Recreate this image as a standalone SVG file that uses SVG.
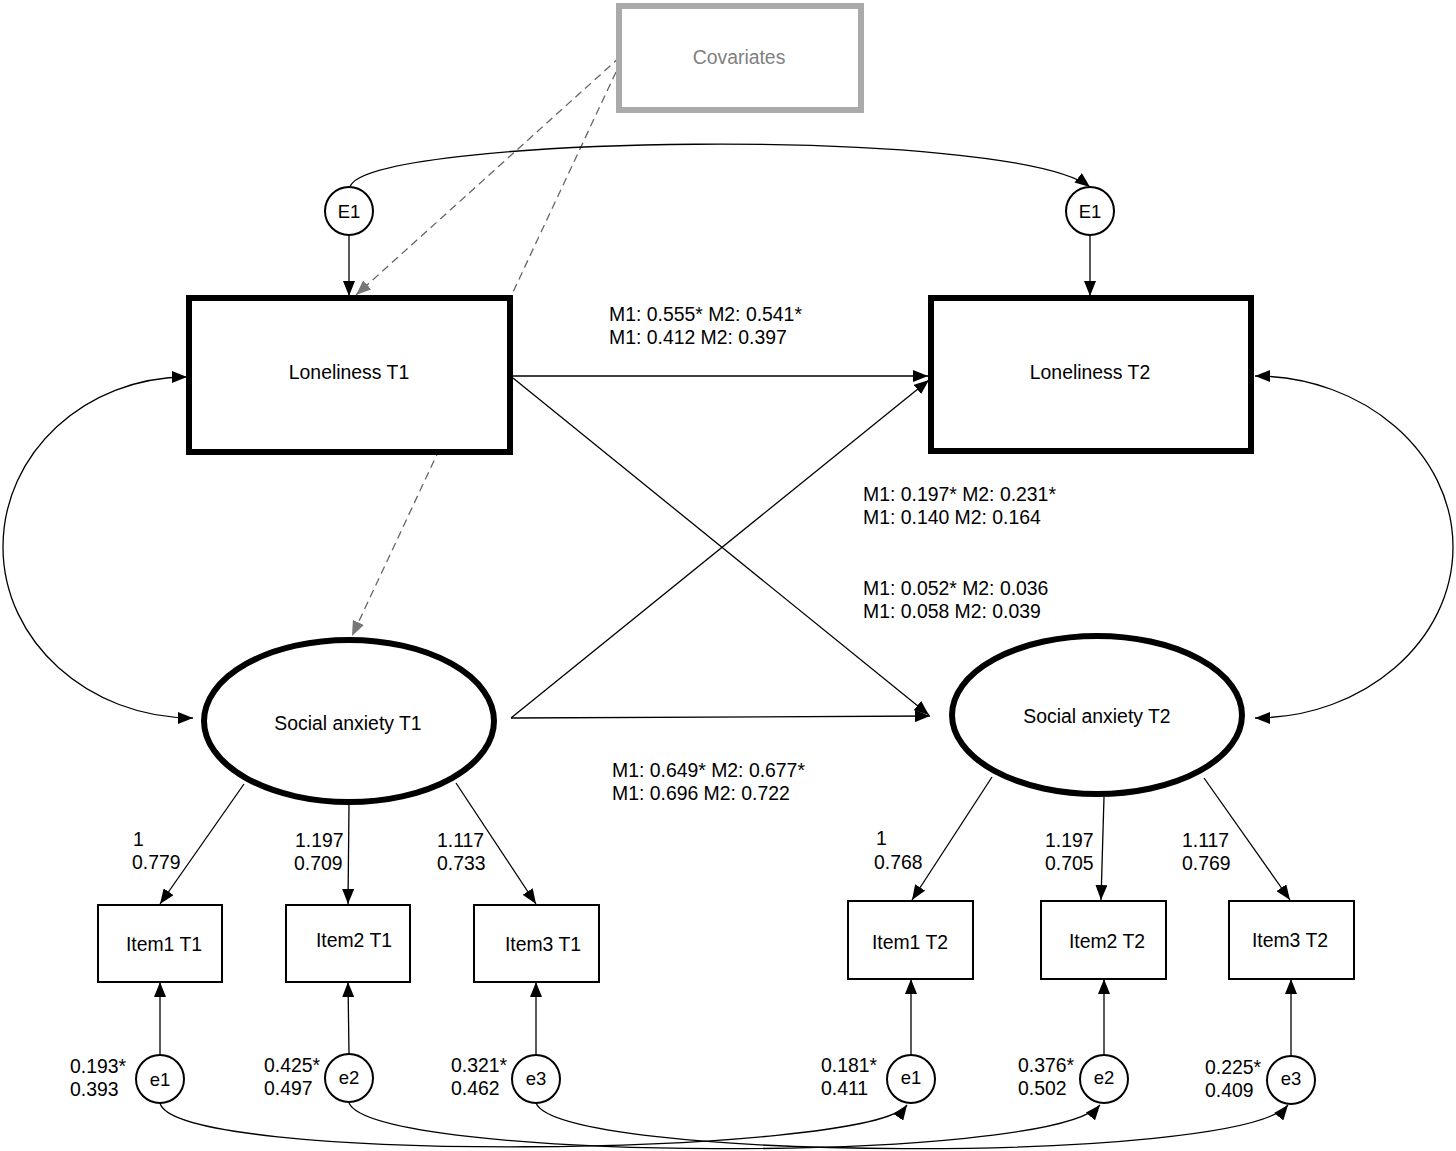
<svg xmlns="http://www.w3.org/2000/svg" width="1456" height="1151" viewBox="0 0 1456 1151">
<defs>
<marker id="ah" markerUnits="userSpaceOnUse" markerWidth="15" markerHeight="12" viewBox="0 0 15 12" refX="15" refY="6" orient="auto-start-reverse"><path d="M0,0 L15,6 L0,12 Z" fill="#000"/></marker>
<marker id="ahg" markerUnits="userSpaceOnUse" markerWidth="15" markerHeight="12" viewBox="0 0 15 12" refX="15" refY="6" orient="auto"><path d="M0,0 L15,6 L0,12 Z" fill="#777"/></marker>
</defs>
<style>
text{font-family:"Liberation Sans",Arial,sans-serif;font-size:19.4px;fill:#000}
.c{text-anchor:middle}
.ln{fill:none;stroke:#000;stroke-width:1.3;marker-end:url(#ah)}
.bi{fill:none;stroke:#000;stroke-width:1.3;marker-start:url(#ah);marker-end:url(#ah)}
.ds{fill:none;stroke:#666;stroke-width:1.3;stroke-dasharray:8 5}
.big{fill:#fff;stroke:#000;stroke-width:6}
.sm{fill:#fff;stroke:#000;stroke-width:2}
.ci{font-size:18.5px}
</style>
<rect width="1456" height="1151" fill="#fff"/>
<g id="connectors">
<path class="ds" d="M616,72 L352,636" marker-end="url(#ahg)"/>
<path class="ds" d="M620,57 L356,295" marker-end="url(#ahg)"/>
<path class="ln" d="M349,235 L349,296"/>
<path class="ln" d="M1090,235 L1090,296"/>
<path class="ln" d="M350,187 C365,135 1010,125 1090,187"/>
<path class="ln" d="M513,376 L928,376"/>
<path class="ln" d="M513,378 L929,715"/>
<path class="ln" d="M511,718 L929,380"/>
<path class="ln" d="M511,718 L930,716"/>
<path class="bi" d="M187,377 C85,377 3,453 3,547 C3,641 88,718 193,718"/>
<path class="bi" d="M1255,376 C1364,376 1453,453 1453,547 C1453,641 1364,718 1255,718"/>
<path class="ln" d="M244,784 L160,904"/>
<path class="ln" d="M349,805 L348,904"/>
<path class="ln" d="M456,783 L536,904"/>
<path class="ln" d="M992,777 L912,900"/>
<path class="ln" d="M1104,797 L1101,900"/>
<path class="ln" d="M1204,778 L1290,900"/>
<path class="ln" d="M160,1055 L160,982"/>
<path class="ln" d="M349,1054 L348,982"/>
<path class="ln" d="M536,1055 L536,982"/>
<path class="ln" d="M911,1055 L911,979"/>
<path class="ln" d="M1104,1055 L1104,979"/>
<path class="ln" d="M1291,1056 L1291,979"/>
<path class="ln" d="M160,1103 C175,1165 870,1157 907,1105"/>
<path class="ln" d="M349,1103 C375,1162 1050,1165 1100,1105"/>
<path class="ln" d="M536,1103 C560,1162 1240,1165 1288,1105"/>
</g>
<g id="covariates">
<rect x="619" y="6" width="242" height="104" fill="#fff" stroke="#aaa" stroke-width="6"/>
<text class="c" x="739" y="64" style="fill:#808080">Covariates</text>
</g>
<g id="E1-left">
<circle class="sm" cx="349" cy="211" r="24"/>
<text class="c ci" x="349" y="218">E1</text>
</g>
<g id="E1-right">
<circle class="sm" cx="1090" cy="211" r="24"/>
<text class="c ci" x="1090" y="218">E1</text>
</g>
<g id="loneliness-t1">
<rect class="big" x="189" y="298" width="321" height="154"/>
<text class="c" x="349" y="379">Loneliness T1</text>
</g>
<g id="loneliness-t2">
<rect class="big" x="931" y="298" width="320" height="153"/>
<text class="c" x="1090" y="379">Loneliness T2</text>
</g>
<g id="social-anxiety-t1">
<ellipse class="big" cx="349" cy="721" rx="145" ry="81"/>
<text class="c" x="348" y="730">Social anxiety T1</text>
</g>
<g id="social-anxiety-t2">
<ellipse class="big" cx="1097" cy="715" rx="145" ry="79"/>
<text class="c" x="1097" y="723">Social anxiety T2</text>
</g>
<g id="item1-t1"><rect class="sm" x="98" y="905" width="124" height="77"/><text class="c" x="164" y="951">Item1 T1</text></g>
<g id="item2-t1"><rect class="sm" x="286" y="905" width="124" height="77"/><text class="c" x="354" y="947">Item2 T1</text></g>
<g id="item3-t1"><rect class="sm" x="474" y="905" width="125" height="77"/><text class="c" x="543" y="951">Item3 T1</text></g>
<g id="item1-t2"><rect class="sm" x="848" y="901" width="125" height="78"/><text class="c" x="910" y="949">Item1 T2</text></g>
<g id="item2-t2"><rect class="sm" x="1041" y="901" width="125" height="78"/><text class="c" x="1107" y="948">Item2 T2</text></g>
<g id="item3-t2"><rect class="sm" x="1229" y="901" width="125" height="78"/><text class="c" x="1290" y="947">Item3 T2</text></g>
<g id="e1-t1"><circle class="sm" cx="160" cy="1079" r="24"/><text class="c ci" x="160" y="1086">e1</text></g>
<g id="e2-t1"><circle class="sm" cx="349" cy="1078" r="24"/><text class="c ci" x="349" y="1084">e2</text></g>
<g id="e3-t1"><circle class="sm" cx="536" cy="1079" r="24"/><text class="c ci" x="536" y="1085">e3</text></g>
<g id="e1-t2"><circle class="sm" cx="911" cy="1079" r="24"/><text class="c ci" x="911" y="1084">e1</text></g>
<g id="e2-t2"><circle class="sm" cx="1104" cy="1079" r="24"/><text class="c ci" x="1104" y="1084">e2</text></g>
<g id="e3-t2"><circle class="sm" cx="1291" cy="1080" r="24"/><text class="c ci" x="1291" y="1085">e3</text></g>
<g id="labels">
<text x="609" y="321">M1: 0.555* M2: 0.541*</text>
<text x="609" y="344">M1: 0.412 M2: 0.397</text>
<text x="863" y="501">M1: 0.197* M2: 0.231*</text>
<text x="863" y="524">M1: 0.140 M2: 0.164</text>
<text x="863" y="595">M1: 0.052* M2: 0.036</text>
<text x="863" y="618">M1: 0.058 M2: 0.039</text>
<text x="612" y="777">M1: 0.649* M2: 0.677*</text>
<text x="612" y="800">M1: 0.696 M2: 0.722</text>
<text x="133" y="846">1</text>
<text x="132" y="869">0.779</text>
<text x="295" y="847">1.197</text>
<text x="294" y="870">0.709</text>
<text x="437" y="847">1.117</text>
<text x="437" y="870">0.733</text>
<text x="876" y="845">1</text>
<text x="874" y="869">0.768</text>
<text x="1045" y="847">1.197</text>
<text x="1045" y="870">0.705</text>
<text x="1182" y="847">1.117</text>
<text x="1182" y="870">0.769</text>
<text x="70" y="1073">0.193*</text>
<text x="70" y="1096">0.393</text>
<text x="264" y="1072">0.425*</text>
<text x="264" y="1095">0.497</text>
<text x="451" y="1072">0.321*</text>
<text x="451" y="1095">0.462</text>
<text x="821" y="1072">0.181*</text>
<text x="821" y="1095">0.411</text>
<text x="1018" y="1072">0.376*</text>
<text x="1018" y="1095">0.502</text>
<text x="1205" y="1074">0.225*</text>
<text x="1205" y="1097">0.409</text>
</g>
</svg>
